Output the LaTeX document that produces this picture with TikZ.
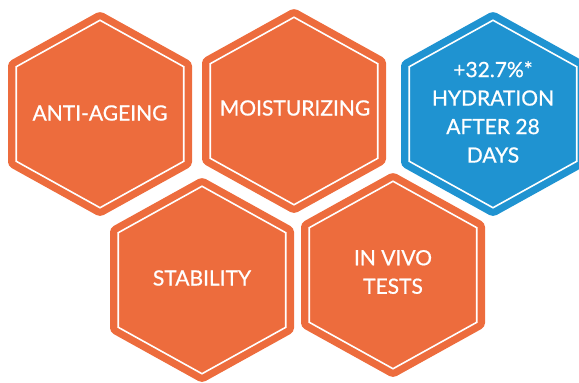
\documentclass[tikz,border=0pt]{standalone}
\usepackage{fontspec}
\setmainfont{Lato}
\newfontfamily\hexfont{Lato}[FakeBold=0.7]
\definecolor{horange}{RGB}{237, 108, 61}
\definecolor{hblue}{RGB}{31, 147, 209}

\begin{document}
\begin{tikzpicture}[x=1pt, y=-1pt, hextext/.style={text=white, align=center, font=\hexfont\fontsize{21}{28.5}\selectfont}]
    \useasboundingbox (0,0) rectangle (579,383);
    \foreach \cx/\cy/\col in {100/114/horange, 294/111/horange, 493/114/hblue, 202/280/horange, 393/275/horange} {
        \begin{scope}[shift={(\cx,\cy)}]
            \fill[\col, rounded corners=4pt] (0,-103) -- (92,-52) -- (92,52) -- (0,103) -- (-92,52) -- (-92,-52) -- cycle;
            \draw[white, line width=1.6pt, scale=0.91] (0,-103) -- (92,-52) -- (92,52) -- (0,103) -- (-92,52) -- (-92,-52) -- cycle;
        \end{scope}
    }
    \node[hextext] (anti) at (100,113) {ANTI-AGEING};
    \node[hextext] (moist) at (295,108) {MOISTURIZING};
    \node[hextext] (hydra) at (493,112) {+32.7\%*\\HYDRATION\\AFTER 28\\DAYS};
    \node[hextext] (stab) at (202,278) {STABILITY};
    \node[hextext] (vivo) at (393,272) {IN VIVO\\TESTS};
\end{tikzpicture}
\end{document}
